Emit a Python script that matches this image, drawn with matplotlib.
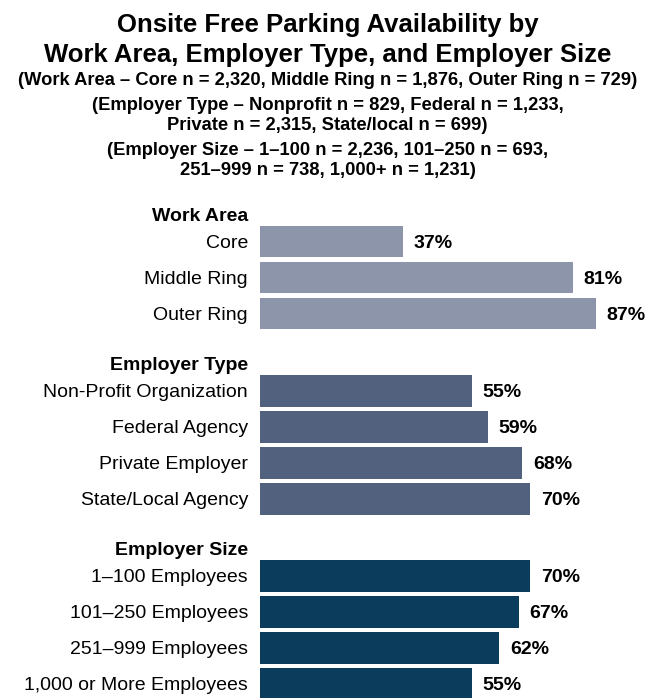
import matplotlib
matplotlib.use("Agg")
import matplotlib.pyplot as plt

# data
groups = ["Work Area", "Employer Type", "Employer Size"]
work_area = ["Core", "Middle Ring", "Outer Ring"]
work_area_pct = [37, 81, 87]
employer_type = ["Non-Profit Organization", "Federal Agency", "Private Employer", "State/Local Agency"]
employer_type_pct = [55, 59, 68, 70]
employer_size = ["1\u2013100 Employees", "101\u2013250 Employees", "251\u2013999 Employees", "1,000 or More Employees"]
employer_size_pct = [70, 67, 62, 55]
colors = ["#8C95AA", "#52617E", "#0B3C5C"]

title = ["Onsite Free Parking Availability by",
         "Work Area, Employer Type, and Employer Size"]
subtitle = ["(Work Area \u2013 Core n = 2,320, Middle Ring n = 1,876, Outer Ring n = 729)",
            "(Employer Type \u2013 Nonprofit n = 829, Federal n = 1,233,",
            "Private n = 2,315, State/local n = 699)",
            "(Employer Size \u2013 1\u2013100 n = 2,236, 101\u2013250 n = 693,",
            "251\u2013999 n = 738, 1,000+ n = 1,231)"]

plt.rcParams["font.family"] = ["Liberation Sans", "DejaVu Sans"]

W, H = 655, 698
fig = plt.figure(figsize=(W / 100, H / 100), dpi=100)
# bars start at 260px, 100% = 386px; row pitch 36px, Core centre at 241.5px
ax = fig.add_axes([260 / W, 0, 386 / W, (H - 200) / H])
ax.set_xlim(0, 100)
ax.set_ylim((H - 241.5) / 36, -(241.5 - 200) / 36)
ax.axis("off")

series = [(work_area, work_area_pct), (employer_type, employer_type_pct), (employer_size, employer_size_pct)]
starts = [0, 4.15, 9.29]
for g, (cats, vals), y0, col in zip(groups, series, starts, colors):
    ys = [y0 + i for i in range(len(cats))]
    ax.barh(ys, vals, height=0.87, color=col)
    ax.annotate(g, xy=(0, y0 - 20.5 / 36), xycoords=("axes fraction", "data"),
                xytext=(-8.6, 0), textcoords="offset points", ha="right", va="baseline",
                fontsize=14, fontweight="bold", annotation_clip=False)
    for y, c, v in zip(ys, cats, vals):
        ax.annotate(c, xy=(0, y), xycoords=("axes fraction", "data"),
                    xytext=(-8.6, 0), textcoords="offset points", ha="right", va="center_baseline",
                    fontsize=14, annotation_clip=False)
        ax.annotate(f"{v}%", xy=(v, y), xytext=(7.6, 0), textcoords="offset points",
                    ha="left", va="center_baseline", fontsize=14, fontweight="bold",
                    annotation_clip=False)

# title and sample sizes, placed by baseline (px from top)
for txt, base in zip(title, [32, 62]):
    fig.text(0.5, 1 - base / H, txt, ha="center", va="baseline", fontsize=18.5, fontweight="bold")
for txt, base in zip(subtitle, [85, 110, 130, 155, 175]):
    fig.text(0.5, 1 - base / H, txt, ha="center", va="baseline", fontsize=13.2, fontweight="bold")

fig.savefig("out.png", dpi=100)
